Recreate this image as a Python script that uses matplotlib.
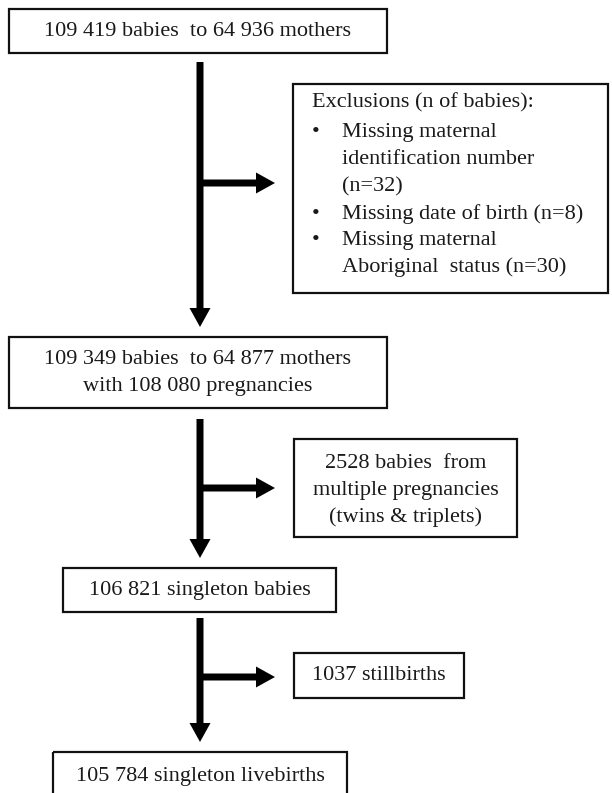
import matplotlib.pyplot as plt
from matplotlib.patches import Rectangle, FancyArrow

# box texts (top to bottom)
main_labels = [
    ["109 419 babies  to 64 936 mothers"],
    ["109 349 babies  to 64 877 mothers", "with 108 080 pregnancies"],
    ["106 821 singleton babies"],
    ["105 784 singleton livebirths"],
]
side_labels = [
    ["2528 babies  from", "multiple pregnancies", "(twins & triplets)"],
    ["1037 stillbirths"],
]
excl_title = "Exclusions (n of babies):"
excl_items = [
    ["Missing maternal", "identification number", "(n=32)"],
    ["Missing date of birth (n=8)"],
    ["Missing maternal", "Aboriginal  status (n=30)"],
]

# layout in pixels (x0, y0, x1, y1), y downwards
main_boxes = [(9, 9, 387, 53), (9, 337, 387, 408), (63, 568, 336, 612), (53, 752, 347, 810)]
main_text_y = [[31], [360, 387], [590], [777]]
side_boxes = [(294, 439, 517, 537), (294, 653, 464, 698)]
side_text_y = [[463, 490, 517], [676]]
excl_box = (293, 84, 608, 293)
excl_y = [103, [132, 160, 187], [214], [241, 267]]
down_arrows = [(62, 327), (419, 558), (618, 742)]
right_arrows = [183, 488, 677]
arrow_x = 200

W, H = 612, 793
fig = plt.figure(figsize=(W / 100, H / 100), dpi=100)
ax = fig.add_axes([0, 0, 1, 1])
ax.set_xlim(0, W)
ax.set_ylim(H, 0)
ax.axis("off")

font = dict(family="Liberation Serif", fontsize=16, color="#1a1a1a")


def box(b):
    x0, y0, x1, y1 = b
    ax.add_patch(Rectangle((x0, y0), x1 - x0, y1 - y0, fill=False,
                           edgecolor="#111111", linewidth=1.6))


for b, lines, ys in zip(main_boxes, main_labels, main_text_y):
    box(b)
    cx = (b[0] + b[2]) / 2
    for t, y in zip(lines, ys):
        ax.text(cx, y, t, ha="center", va="center", **font)

for b, lines, ys in zip(side_boxes, side_labels, side_text_y):
    box(b)
    cx = (b[0] + b[2]) / 2
    for t, y in zip(lines, ys):
        ax.text(cx, y, t, ha="center", va="center", **font)

box(excl_box)
ax.text(312, excl_y[0], excl_title, ha="left", va="center", **font)
for lines, ys in zip(excl_items, excl_y[1:]):
    ax.text(316, ys[0], "\u2022", ha="center", va="center", **font)
    for t, y in zip(lines, ys):
        ax.text(342, y, t, ha="left", va="center", **font)

for y0, y1 in down_arrows:
    ax.add_patch(FancyArrow(arrow_x, y0, 0, y1 - y0, width=7, head_width=21,
                            head_length=19, length_includes_head=True,
                            color="black", linewidth=0))
for y in right_arrows:
    ax.add_patch(FancyArrow(arrow_x, y, 75, 0, width=7, head_width=21,
                            head_length=19, length_includes_head=True,
                            color="black", linewidth=0))

fig.savefig("out.png", dpi=100)
